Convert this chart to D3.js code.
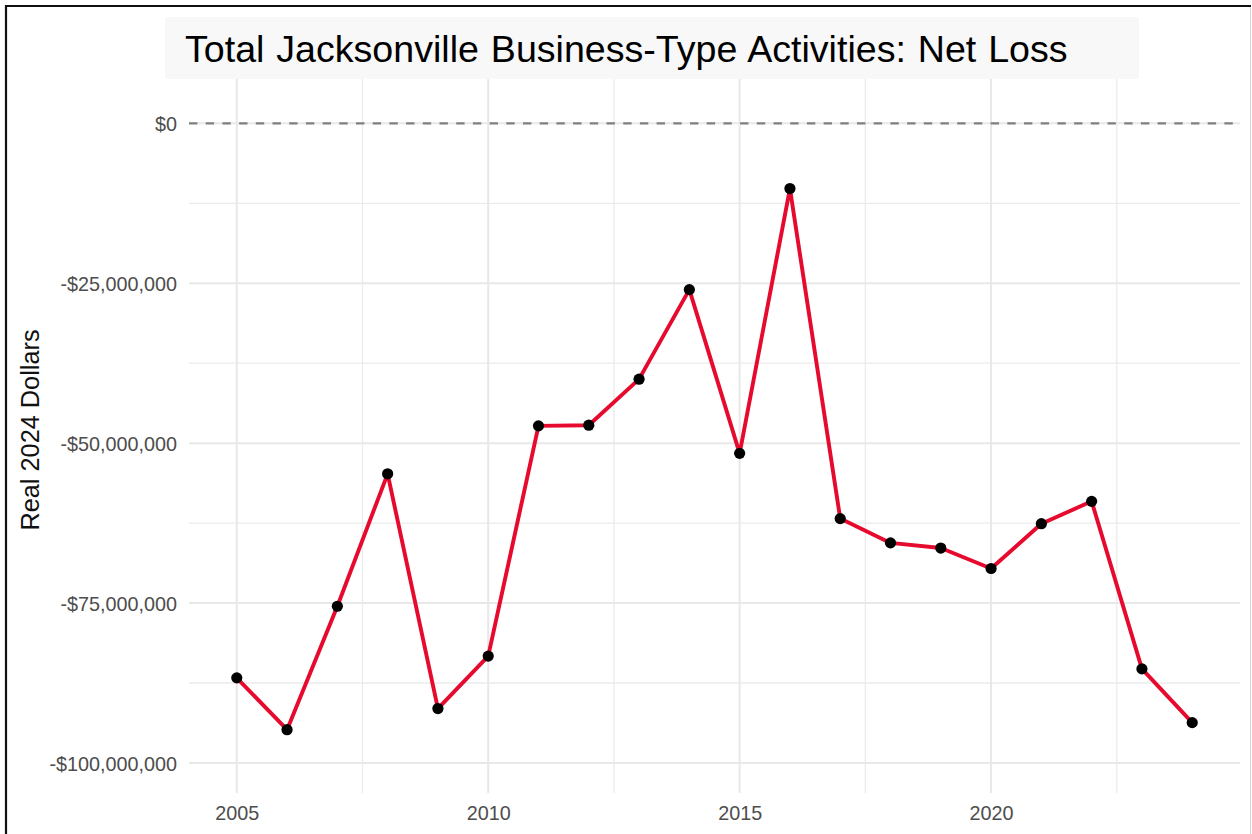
<!DOCTYPE html>
<html>
<head>
<meta charset="utf-8">
<script src="https://cdn.jsdelivr.net/npm/d3@7"></script>
<style>
  html, body { margin: 0; padding: 0; background: #ffffff; }
  svg { display: block; font-family: "Liberation Sans", Arial, Helvetica, sans-serif; }
</style>
</head>
<body>
<svg id="chart" width="1252" height="834"></svg>
<script>
// Net loss of Jacksonville business-type activities, real 2024 dollars
const years = [2005, 2006, 2007, 2008, 2009, 2010, 2011, 2012, 2013, 2014,
               2015, 2016, 2017, 2018, 2019, 2020, 2021, 2022, 2023, 2024];
const netLoss = [-86.7e6, -94.8e6, -75.5e6, -54.8e6, -91.5e6, -83.3e6, -47.3e6, -47.2e6, -40.0e6, -26.0e6,
                 -51.6e6, -10.2e6, -61.8e6, -65.6e6, -66.4e6, -69.6e6, -62.6e6, -59.1e6, -85.3e6, -93.7e6];
const yMajorTicks = [0, -25e6, -50e6, -75e6, -100e6];
const yMinorTicks = [-12.5e6, -37.5e6, -62.5e6, -87.5e6];
const xMajorTicks = [2005, 2010, 2015, 2020];
const xMinorTicks = [2007.5, 2012.5, 2017.5, 2022.5];
const titleText = "Total Jacksonville Business-Type Activities: Net Loss";
const yTitle = "Real 2024 Dollars";

const svg = d3.select("#chart");
const panel = { left: 189, right: 1240, top: 79, bottom: 793 };

const x = d3.scaleLinear().domain([2004.05, 2024.95]).range([panel.left, panel.right]);
const y = d3.scaleLinear().domain([-104.7e6, 6.93e6]).range([panel.bottom, panel.top]);

const money = v => (v < 0 ? "-$" : "$") + d3.format(",")(Math.abs(v));

// page frame
svg.append("rect").attr("width", 1252).attr("height", 834).attr("fill", "#ffffff");
svg.append("line").attr("x1", 6).attr("x2", 1251).attr("y1", 6).attr("y2", 6)
  .attr("stroke", "#111").attr("stroke-width", 2.2);
svg.append("line").attr("x1", 6).attr("x2", 6).attr("y1", 5).attr("y2", 834)
  .attr("stroke", "#111").attr("stroke-width", 2.2);
svg.append("line").attr("x1", 1250.5).attr("x2", 1250.5).attr("y1", 7).attr("y2", 834)
  .attr("stroke", "#d4d4d4").attr("stroke-width", 1);

// title band
svg.append("rect").attr("x", 165).attr("y", 17).attr("width", 974).attr("height", 62)
  .attr("fill", "#f8f8f8");
svg.append("text").attr("x", 185).attr("y", 62)
  .attr("font-size", 37.6).attr("word-spacing", 1.5).attr("fill", "#000")
  .text(titleText);

// grid
const grid = svg.append("g");
grid.selectAll("line.ymin").data(yMinorTicks).join("line")
  .attr("x1", panel.left).attr("x2", panel.right)
  .attr("y1", d => y(d)).attr("y2", d => y(d))
  .attr("stroke", "#ebebeb").attr("stroke-width", 1.3);
grid.selectAll("line.xmin").data(xMinorTicks).join("line")
  .attr("y1", panel.top).attr("y2", panel.bottom)
  .attr("x1", d => x(d)).attr("x2", d => x(d))
  .attr("stroke", "#ebebeb").attr("stroke-width", 1.3);
grid.selectAll("line.ymaj").data(yMajorTicks).join("line")
  .attr("x1", panel.left).attr("x2", panel.right)
  .attr("y1", d => y(d)).attr("y2", d => y(d))
  .attr("stroke", "#e8e8e8").attr("stroke-width", 2);
grid.selectAll("line.xmaj").data(xMajorTicks).join("line")
  .attr("y1", panel.top).attr("y2", panel.bottom)
  .attr("x1", d => x(d)).attr("x2", d => x(d))
  .attr("stroke", "#e8e8e8").attr("stroke-width", 2);

// zero reference line
svg.append("line")
  .attr("x1", panel.left).attr("x2", panel.right)
  .attr("y1", y(0)).attr("y2", y(0))
  .attr("stroke", "#808080").attr("stroke-width", 2.2)
  .attr("stroke-dasharray", "8.4,8.3");

// axes (labels only)
const yAxis = svg.append("g").attr("transform", `translate(${panel.left - 12},0)`)
  .call(d3.axisLeft(y).tickValues(yMajorTicks).tickFormat(money).tickSize(0).tickPadding(0));
yAxis.select(".domain").remove();
yAxis.selectAll("text").attr("font-size", 19.8).attr("fill", "#4d4d4d")
  .attr("font-family", "Liberation Sans, Arial, sans-serif").attr("dy", "0.36em");

const xAxis = svg.append("g").attr("transform", `translate(0,${panel.bottom + 12})`)
  .call(d3.axisBottom(x).tickValues(xMajorTicks).tickFormat(d3.format("d")).tickSize(0).tickPadding(0));
xAxis.select(".domain").remove();
xAxis.selectAll("text").attr("font-size", 19.8).attr("fill", "#4d4d4d")
  .attr("font-family", "Liberation Sans, Arial, sans-serif").attr("dy", "0.76em");

// y-axis title
svg.append("text")
  .attr("transform", "translate(38.5,430) rotate(-90)")
  .attr("text-anchor", "middle").attr("font-size", 25.3).attr("fill", "#111")
  .text(yTitle);

// series
const pts = years.map((yr, i) => [yr, netLoss[i]]);
svg.append("path").datum(pts)
  .attr("fill", "none").attr("stroke", "#e60a2e").attr("stroke-width", 3.9)
  .attr("stroke-linejoin", "round")
  .attr("d", d3.line().x(d => x(d[0])).y(d => y(d[1])));
svg.selectAll("circle.pt").data(pts).join("circle")
  .attr("cx", d => x(d[0])).attr("cy", d => y(d[1])).attr("r", 5.6)
  .attr("fill", "#000");
</script>
</body>
</html>
